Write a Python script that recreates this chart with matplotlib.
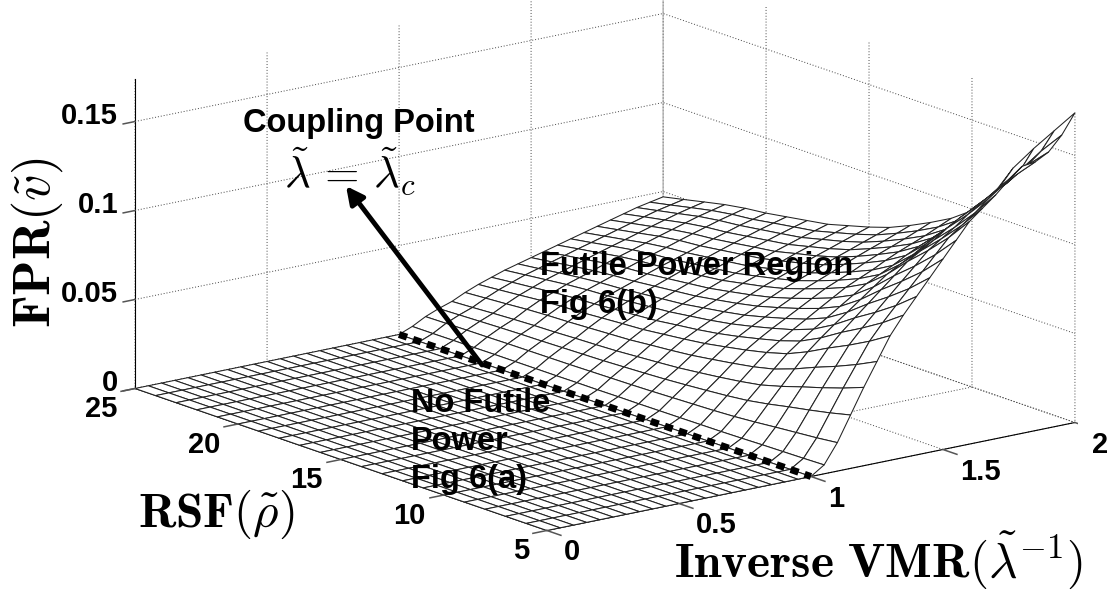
import numpy as np
import matplotlib
matplotlib.use("Agg")
import matplotlib.pyplot as plt
from matplotlib.patches import FancyArrowPatch
from matplotlib.text import Text
from matplotlib.transforms import Affine2D
from mpl_toolkits.mplot3d import proj3d

W, H = 1110, 590
plt.rcParams['mathtext.fontset'] = 'cm'

# Axis values
inverse_vmr_floor = [0.00, 0.05, 0.10, 0.15, 0.20, 0.25, 0.30, 0.35, 0.40, 0.45,
                     0.50, 0.55, 0.60, 0.65, 0.70, 0.75, 0.80, 0.85, 0.90, 0.95]
inverse_vmr_rise = [1.00, 1.05, 1.10, 1.15, 1.20, 1.25, 1.30, 1.35, 1.40, 1.45, 1.50,
                    1.55, 1.60, 1.65, 1.70, 1.75, 1.80, 1.85, 1.90, 1.95, 2.00]
rsf = [5, 6, 7, 8, 9, 10, 11, 12, 13, 14, 15, 16, 17, 18, 19, 20, 21, 22, 23, 24, 25]

# FPR values: one row per inverse VMR value >= 1, one column per RSF value
fpr_rise = [
    [0, 0, 0, 0, 0, 0, 0, 0, 0, 0, 0, 0, 0, 0, 0, 0, 0, 0, 0, 0, 0],
    [.005, .0047, .0045, .0043, .0040, .0038, .0037, .0036, .0035, .0034, .0034, .0033, .0033, .0032, .0032, .0032, .0032, .0031, .0031, .0030, .003],
    [.016, .0147, .0137, .0127, .0116, .0107, .0101, .0097, .0093, .0089, .0086, .0084, .0082, .0080, .0079, .0078, .0077, .0075, .0074, .0072, .007],
    [.030, .0272, .0248, .0226, .0202, .0182, .0169, .0159, .0150, .0142, .0136, .0131, .0126, .0123, .0120, .0117, .0115, .0112, .0108, .0104, .010],
    [.044, .0396, .0358, .0323, .0286, .0254, .0234, .0218, .0204, .0191, .0182, .0174, .0166, .0161, .0157, .0152, .0149, .0144, .0138, .0131, .0125],
    [.057, .0513, .0463, .0418, .0369, .0328, .0301, .0281, .0263, .0246, .0234, .0224, .0213, .0207, .0201, .0195, .0191, .0185, .0176, .0168, .016],
    [.070, .0629, .0567, .0511, .0450, .0399, .0366, .0340, .0318, .0297, .0282, .0269, .0256, .0249, .0241, .0233, .0228, .0221, .0210, .0200, .019],
    [.080, .0718, .0648, .0584, .0513, .0455, .0417, .0388, .0361, .0338, .0320, .0306, .0291, .0282, .0274, .0265, .0259, .0250, .0238, .0227, .0215],
    [.089, .0799, .0721, .0650, .0572, .0507, .0464, .0432, .0403, .0377, .0357, .0341, .0325, .0315, .0305, .0295, .0289, .0279, .0266, .0253, .024],
    [.098, .0879, .0793, .0714, .0627, .0555, .0508, .0472, .0440, .0411, .0390, .0372, .0354, .0343, .0332, .0321, .0314, .0303, .0289, .0274, .026],
    [.107, .0959, .0865, .0778, .0683, .0604, .0553, .0513, .0478, .0446, .0422, .0402, .0383, .0371, .0359, .0347, .0339, .0327, .0312, .0296, .028],
    [.116, .1040, .0936, .0842, .0739, .0653, .0597, .0554, .0515, .0481, .0455, .0433, .0412, .0399, .0386, .0373, .0365, .0352, .0334, .0317, .030],
    [.125, .1120, .1008, .0906, .0794, .0701, .0641, .0594, .0553, .0515, .0487, .0464, .0441, .0427, .0413, .0399, .0390, .0376, .0357, .0339, .032],
    [.131, .1174, .1058, .0951, .0835, .0738, .0675, .0626, .0583, .0544, .0515, .0490, .0466, .0452, .0437, .0422, .0413, .0398, .0379, .0359, .034],
    [.137, .1229, .1107, .0996, .0875, .0774, .0708, .0658, .0613, .0572, .0542, .0517, .0491, .0476, .0461, .0446, .0436, .0421, .0400, .0380, .036],
    [.144, .1292, .1164, .1048, .0921, .0815, .0746, .0693, .0645, .0603, .0571, .0544, .0518, .0502, .0486, .0470, .0460, .0444, .0422, .0401, .038],
    [.150, .1346, .1214, .1093, .0961, .0851, .0780, .0725, .0675, .0631, .0598, .0571, .0543, .0527, .0510, .0494, .0483, .0466, .0444, .0422, .040],
    [.151, .1392, .1256, .1132, .0996, .0883, .0810, .0753, .0703, .0657, .0623, .0595, .0567, .0550, .0533, .0516, .0505, .0488, .0465, .0443, .042],
    [.155, .1438, .1298, .1171, .1032, .0916, .0840, .0782, .0730, .0684, .0649, .0620, .0591, .0573, .0556, .0539, .0527, .0510, .0486, .0463, .044],
    [.163, .1500, .1354, .1220, .1075, .0953, .0874, .0813, .0759, .0710, .0674, .0643, .0613, .0595, .0577, .0558, .0546, .0528, .0504, .0479, .0455],
    [.174, .1600, .1460, .1310, .1118, .0991, .0908, .0845, .0788, .0737, .0699, .0667, .0635, .0616, .0597, .0578, .0565, .0546, .0521, .0495, .047],
]

x_ticks = [0, 0.5, 1, 1.5, 2]
x_tick_labels = ['0', '0.5', '1', '1.5', '2']
y_ticks = [5, 10, 15, 20, 25]
y_tick_labels = ['5', '10', '15', '20', '25']
z_ticks = [0, 0.05, 0.1, 0.15]
z_tick_labels = ['0', '0.05', '0.1', '0.15']
coupling_x = [1, 1]
coupling_y = [25, 5]
coupling_z = [0, 0]

x_all = np.array(inverse_vmr_floor + inverse_vmr_rise)
y_all = np.array(rsf, dtype=float)
Z = np.vstack([np.zeros((len(inverse_vmr_floor), len(rsf))), np.array(fpr_rise)])
Y_grid, X_grid = np.meshgrid(y_all, x_all)

fig = plt.figure(figsize=(W / 100, H / 100), dpi=100, facecolor='white')
S = 972.0
cx, cy = 605.0, 590 - 251.0
frac = 0.095 / 0.185
ax = fig.add_axes([(cx - frac * S) / W, (cy - frac * S) / H, S / W, S / H], projection='3d',
                  proj_type='ortho')
ax.patch.set_alpha(0)
ax.set_box_aspect((666.5, 675.0, 320.5))
ax.view_init(elev=15.4, azim=-127.6)
ax.set_xlim(0, 2)
ax.set_ylim(5, 25)
ax.set_zlim(0, 0.1736)

tick_font = dict(family='Liberation Sans', fontweight='bold', fontsize=21)
ax.set_xticks(x_ticks)
ax.set_xticklabels(x_tick_labels, **tick_font)
ax.set_yticks(y_ticks)
ax.set_yticklabels(y_tick_labels, **tick_font)
ax.set_zticks(z_ticks)
ax.set_zticklabels(z_tick_labels, **tick_font)

for axis in (ax.xaxis, ax.yaxis, ax.zaxis):
    axis.set_pane_color((1, 1, 1, 0))
    axis.pane.set_edgecolor((1, 1, 1, 0))
    axis._axinfo['grid'].update(color='#444444', linestyle=(0, (1, 2)), linewidth=0.7)
    axis._axinfo['axisline']['color'] = 'black'
    axis._axinfo['axisline']['linewidth'] = 0.9
    axis._axinfo['tick'].update(inward_factor=0.0, outward_factor=0.0)

ax.plot_surface(X_grid, Y_grid, Z, rstride=1, cstride=1, color='white', shade=False,
                edgecolor='#222222', linewidth=0.75, antialiased=True, zorder=2)
ax.plot(coupling_x, coupling_y, coupling_z, color='black', linestyle=(0, (1.2, 0.93)),
        linewidth=5.0, zorder=10)

# Short tick marks, pointing away from the box
tick_style = dict(color='#555555', linewidth=1.1, zorder=3)
for v in x_ticks:
    ax.plot([v, v], [5, 4.32], [0, 0], **tick_style)
for v in y_ticks:
    ax.plot([0, -0.053], [v, v], [0, 0], **tick_style)
for v in z_ticks:
    ax.plot([0, -0.045], [25, 25], [v, v], **tick_style)
ax.computed_zorder = False


def place_tick_labels(axis, anchors, dx, dy, ha):
    """Move each tick label to a pixel offset from its tick on the box."""
    fig.canvas.draw()
    proj = ax.get_proj()
    for tick, anchor in zip(axis.get_major_ticks(), anchors):
        label = tick.label1
        x2, y2, _ = proj3d.proj_transform(*anchor, proj)
        target = ax.transData.transform((x2, y2)) + np.array([dx, -dy])
        current = ax.transData.transform(label.get_position())
        label.set_ha(ha)
        label.set_va('center')
        shift = Affine2D().translate(*(target - current))
        label.set_transform = (lambda lab, off: lambda t: Text.set_transform(lab, t + off))(label, shift)


place_tick_labels(ax.xaxis, [(v, 5, 0) for v in x_ticks], 17, 22, 'left')
place_tick_labels(ax.yaxis, [(0, v, 0) for v in y_ticks], -18, 21, 'right')
place_tick_labels(ax.zaxis, [(0, 25, v) for v in z_ticks], -17, -5, 'right')


def px(x, y):
    return x / W, 1 - y / H


label_font = dict(family='Liberation Sans', fontweight='bold', fontsize=23.5, color='black',
                  va='baseline', ha='left')
fig.text(*px(243, 132), 'Coupling Point', **label_font)
fig.text(*px(540, 275), 'Futile Power Region', **label_font)
fig.text(*px(540, 313), 'Fig 6(b)', **label_font)
fig.text(*px(411, 412), 'No Futile', **label_font)
fig.text(*px(411, 450), 'Power', **label_font)
fig.text(*px(411, 488), 'Fig 6(a)', **label_font)
fig.text(*px(284, 187), r'$\tilde{\lambda}\,=\,\tilde{\lambda}_c$', va='baseline', ha='left', fontsize=32)
fig.text(*px(37, 243), r'$\mathbf{FPR}(\tilde{v})$', rotation=90, va='center', ha='center', fontsize=37.5)
fig.text(*px(138, 527), r'$\mathbf{RSF}(\tilde{\rho})$', va='baseline', ha='left', fontsize=35.5)
fig.text(*px(674, 577), r'$\mathbf{Inverse\ VMR}(\tilde{\lambda}^{-1})$', va='baseline', ha='left', fontsize=35.5)

arrow = FancyArrowPatch(px(482, 365), px(346, 186), transform=fig.transFigure,
                        arrowstyle='-|>', mutation_scale=26, linewidth=3.5, color='black',
                        shrinkA=0, shrinkB=0)
fig.add_artist(arrow)

fig.savefig('out.png', dpi=100, facecolor='white')
